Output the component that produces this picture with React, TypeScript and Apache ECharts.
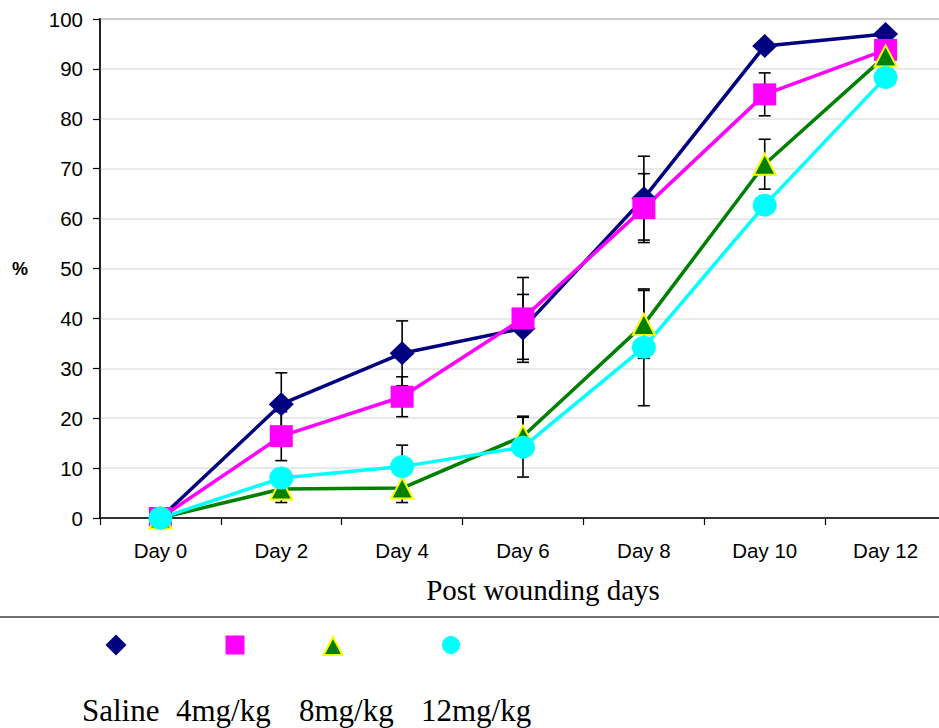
import React, { useEffect, useRef } from "react";
import * as echarts from "echarts";

const days = ["Day 0", "Day 2", "Day 4", "Day 6", "Day 8", "Day 10", "Day 12"];
const yTicks = { min: 0, max: 100, interval: 10 };

const saline = [0, 22.8, 33.0, 38.0, 64.1, 94.6, 97.0];
const salineErr = [0, 6.3, 6.5, 6.8, 8.4, 1.0, 1.0];
const mg4 = [0, 16.4, 24.3, 40.0, 62.1, 84.9, 93.8];
const mg4Err = [0, 4.9, 4.0, 8.2, 6.9, 4.3, 1.0];
const mg8 = [0, 5.8, 6.0, 16.4, 38.8, 70.9, 92.6];
const mg8Err = [0, 2.7, 2.9, 4.0, 6.8, 5.0, 1.0];
const mg12 = [0, 8.0, 10.3, 14.2, 34.2, 62.7, 88.3];
const mg12Err = [0, 1.5, 4.3, 6.0, 11.7, 1.5, 1.0];

const seriesNames = ["Saline", "4mg/kg", "8mg/kg", "12mg/kg"];

const SANS = "Liberation Sans, Arial, sans-serif";
const SERIF = "Liberation Serif, Times New Roman, serif";

function errSeries(vals: number[], errs: number[]) {
  return {
    type: "custom",
    z: 1,
    silent: true,
    data: vals.map((v, i) => [i, v, errs[i]]),
    encode: { x: 0, y: 1 },
    renderItem: (params: any, api: any) => {
      const idx = api.value(0);
      const v = api.value(1);
      const e = api.value(2);
      if (!e) return null;
      const top = api.coord([idx, v + e]);
      const bot = api.coord([idx, v - e]);
      const hw = 6;
      const st = { stroke: "#000", lineWidth: 1.6 };
      return {
        type: "group",
        children: [
          { type: "line", shape: { x1: top[0], y1: top[1], x2: bot[0], y2: bot[1] }, style: st },
          { type: "line", shape: { x1: top[0] - hw, y1: top[1], x2: top[0] + hw, y2: top[1] }, style: st },
          { type: "line", shape: { x1: bot[0] - hw, y1: bot[1], x2: bot[0] + hw, y2: bot[1] }, style: st },
        ],
      };
    },
  };
}

function legendAt(cx: number, cy: number, item: any, w: number, h: number) {
  return {
    data: [item],
    left: cx - w / 2,
    top: cy - h / 2,
    itemWidth: w,
    itemHeight: h,
    padding: 0,
    selectedMode: false,
    formatter: () => "",
    textStyle: { fontSize: 1 },
  };
}

export default function App() {
  const ref = useRef<HTMLDivElement>(null);
  useEffect(() => {
    if (!ref.current) return;
    const chart = echarts.init(ref.current, null, { renderer: "svg" });
    const option: any = {
      animation: false,
      backgroundColor: "#fff",
      grid: {
        left: 100,
        top: 19,
        width: 846,
        height: 499,
        show: true,
        borderColor: "#888",
        borderWidth: 2,
        backgroundColor: "transparent",
      },
      xAxis: {
        type: "category",
        data: days,
        boundaryGap: true,
        axisLine: { lineStyle: { color: "#000", width: 1.5 } },
        axisTick: { show: true, alignWithLabel: false, interval: 0, length: 7, lineStyle: { color: "#000", width: 1.2 } },
        axisLabel: { fontFamily: SANS, fontSize: 20.5, color: "#000", margin: 22, interval: 0 },
        splitLine: { show: false },
        name: "Post wounding days",
        nameLocation: "middle",
        nameGap: 57,
        nameTextStyle: { fontFamily: SERIF, fontSize: 29, color: "#000", padding: [0, 0, 0, 40] },
      },
      yAxis: {
        type: "value",
        min: yTicks.min,
        max: yTicks.max,
        interval: yTicks.interval,
        axisLine: { show: true, lineStyle: { color: "#000", width: 1.5 } },
        axisTick: { show: true, length: 7, lineStyle: { color: "#000", width: 1.2 } },
        axisLabel: { fontFamily: SANS, fontSize: 20.5, color: "#000", margin: 17 },
        splitLine: { show: true, lineStyle: { color: "#e2e2e2", width: 1.5 } },
        name: "%",
        nameLocation: "middle",
        nameRotate: 0,
        nameGap: 72,
        nameTextStyle: { fontFamily: SANS, fontSize: 18, fontWeight: "bold", color: "#000", align: "right", verticalAlign: "middle", padding: [6, 0, 0, 0] },
      },
      legend: [
        legendAt(116, 645, { name: seriesNames[0], icon: "diamond", itemStyle: { color: "#000080" } }, 21, 21),
        legendAt(235, 645, { name: seriesNames[1], icon: "rect", itemStyle: { color: "#ff00ff" } }, 19, 19),
        legendAt(332, 645, { name: seriesNames[2], icon: "triangle", itemStyle: { color: "#008000", borderColor: "#ffff00", borderWidth: 2 } }, 19, 18),
        legendAt(451, 645, { name: seriesNames[3], icon: "circle", itemStyle: { color: "#00ffff" } }, 18, 19),
      ],
      graphic: [
        { type: "line", shape: { x1: 0, y1: 617, x2: 939, y2: 617 }, style: { stroke: "#404040", lineWidth: 1.5 } },
        { type: "text", left: 82, top: 695, style: { text: "Saline", font: `31px ${SERIF}`, fill: "#000" } },
        { type: "text", left: 176, top: 695, style: { text: "4mg/kg", font: `31px ${SERIF}`, fill: "#000" } },
        { type: "text", left: 299, top: 695, style: { text: "8mg/kg", font: `31px ${SERIF}`, fill: "#000" } },
        { type: "text", left: 421, top: 695, style: { text: "12mg/kg", font: `31px ${SERIF}`, fill: "#000" } },
      ],
      series: [
        errSeries(saline, salineErr),
        errSeries(mg4, mg4Err),
        errSeries(mg8, mg8Err),
        errSeries(mg12, mg12Err),
        {
          name: seriesNames[0],
          type: "line",
          z: 2,
          data: saline,
          symbol: "diamond",
          symbolSize: [25, 24],
          lineStyle: { color: "#000080", width: 3.5 },
          itemStyle: { color: "#000080" },
        },
        {
          name: seriesNames[1],
          type: "line",
          z: 2,
          data: mg4,
          symbol: "rect",
          symbolSize: [23, 22],
          lineStyle: { color: "#ff00ff", width: 3.5 },
          itemStyle: { color: "#ff00ff" },
        },
        {
          name: seriesNames[2],
          type: "line",
          z: 2,
          data: mg8,
          symbol: "triangle",
          symbolSize: [22, 21],
          lineStyle: { color: "#008000", width: 3.5 },
          itemStyle: { color: "#008000", borderColor: "#ffff00", borderWidth: 2 },
        },
        {
          name: seriesNames[3],
          type: "line",
          z: 2,
          data: mg12,
          symbol: "circle",
          symbolSize: [24, 23],
          lineStyle: { color: "#00ffff", width: 3.5 },
          itemStyle: { color: "#00ffff" },
        },
      ],
    };
    chart.setOption(option);
    return () => chart.dispose();
  }, []);
  return (
    <div style={{ position: "fixed", left: 0, top: 0, width: 939, height: 728, overflow: "hidden", background: "#fff" }}>
      <div ref={ref} style={{ width: 952, height: 728 }} />
    </div>
  );
}
